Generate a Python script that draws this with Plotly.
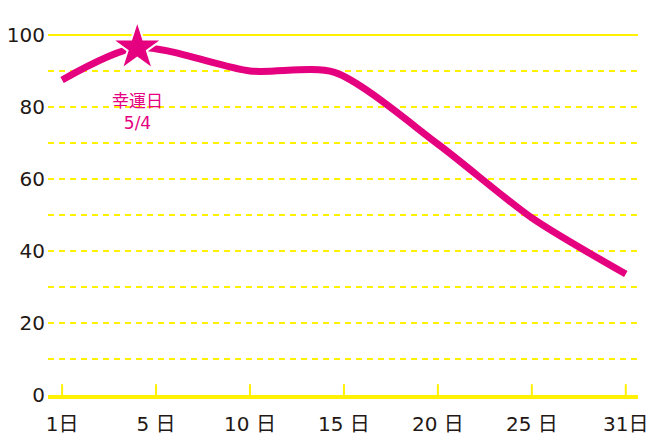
import plotly.graph_objects as go

# data
tick_pos = [0, 1, 2, 3, 4, 5, 6]
tick_labels = ["1日", "5 日", "10 日", "15 日", "20 日", "25 日", "31日"]
line_pos = [0, 0.8, 2, 2.9, 4, 5, 6]
line_vals = [87.5, 96.5, 90.0, 89.6, 69.7, 49.2, 33.6]
lucky_pos = 0.8
lucky_val = 96.5
lucky_text = "幸運日<br>5/4"

PINK = "#e4007f"
YELLOW = "#fff100"
INK = "#231815"
FONT = "DejaVu Sans, Noto Sans CJK JP"

fig = go.Figure()

fig.add_trace(go.Scatter(
    x=line_pos, y=line_vals, mode="lines",
    line=dict(color=PINK, width=7, shape="spline", smoothing=0.75),
    hoverinfo="skip", cliponaxis=False,
))

fig.add_trace(go.Scatter(
    x=[lucky_pos], y=[lucky_val], mode="markers",
    marker=dict(symbol="star", size=38, color=PINK, line=dict(color="white", width=2)),
    hoverinfo="skip", cliponaxis=False,
))

fig.add_annotation(
    x=lucky_pos, y=lucky_val, text=lucky_text, showarrow=False,
    yshift=-64, font=dict(family=FONT, size=17, color=PINK), align="center",
)

# top solid line at 100
fig.add_shape(type="line", xref="x domain", yref="y domain", x0=0, x1=1, y0=1, y1=1,
              line=dict(color=YELLOW, width=2), layer="below")

# x ticks crossing the axis line
for p in tick_pos:
    fig.add_shape(type="line", xref="x", yref="y", x0=p, x1=p, y0=-3, y1=3,
                  line=dict(color=YELLOW, width=2), layer="above")

# page body has an 8px margin, so the figure is sized to fit the window
fig.update_layout(
    width=652, height=433,
    margin=dict(l=40, r=22, t=27, b=46, autoexpand=False),
    paper_bgcolor="white", plot_bgcolor="white",
    showlegend=False,
    font=dict(family=FONT, color=INK),
)

fig.update_xaxes(
    range=[-0.15, 6.13], tickvals=tick_pos, ticktext=tick_labels, automargin=False,
    showgrid=False, zeroline=False, showline=True, linecolor=YELLOW, linewidth=3.5,
    ticks="", ticklabelstandoff=8, tickfont=dict(size=20, color=INK),
)

fig.update_yaxes(
    range=[0, 100], tickvals=[0, 20, 40, 60, 80, 100], automargin=False,
    showgrid=True, gridcolor=YELLOW, gridwidth=1.5, griddash="6px,5px",
    minor=dict(dtick=10, showgrid=True, gridcolor=YELLOW, gridwidth=1.5, griddash="6px,5px"),
    zeroline=False, showline=False, ticks="", ticklabelstandoff=2,
    tickfont=dict(size=20, color=INK),
)

fig.write_html("out.html")
